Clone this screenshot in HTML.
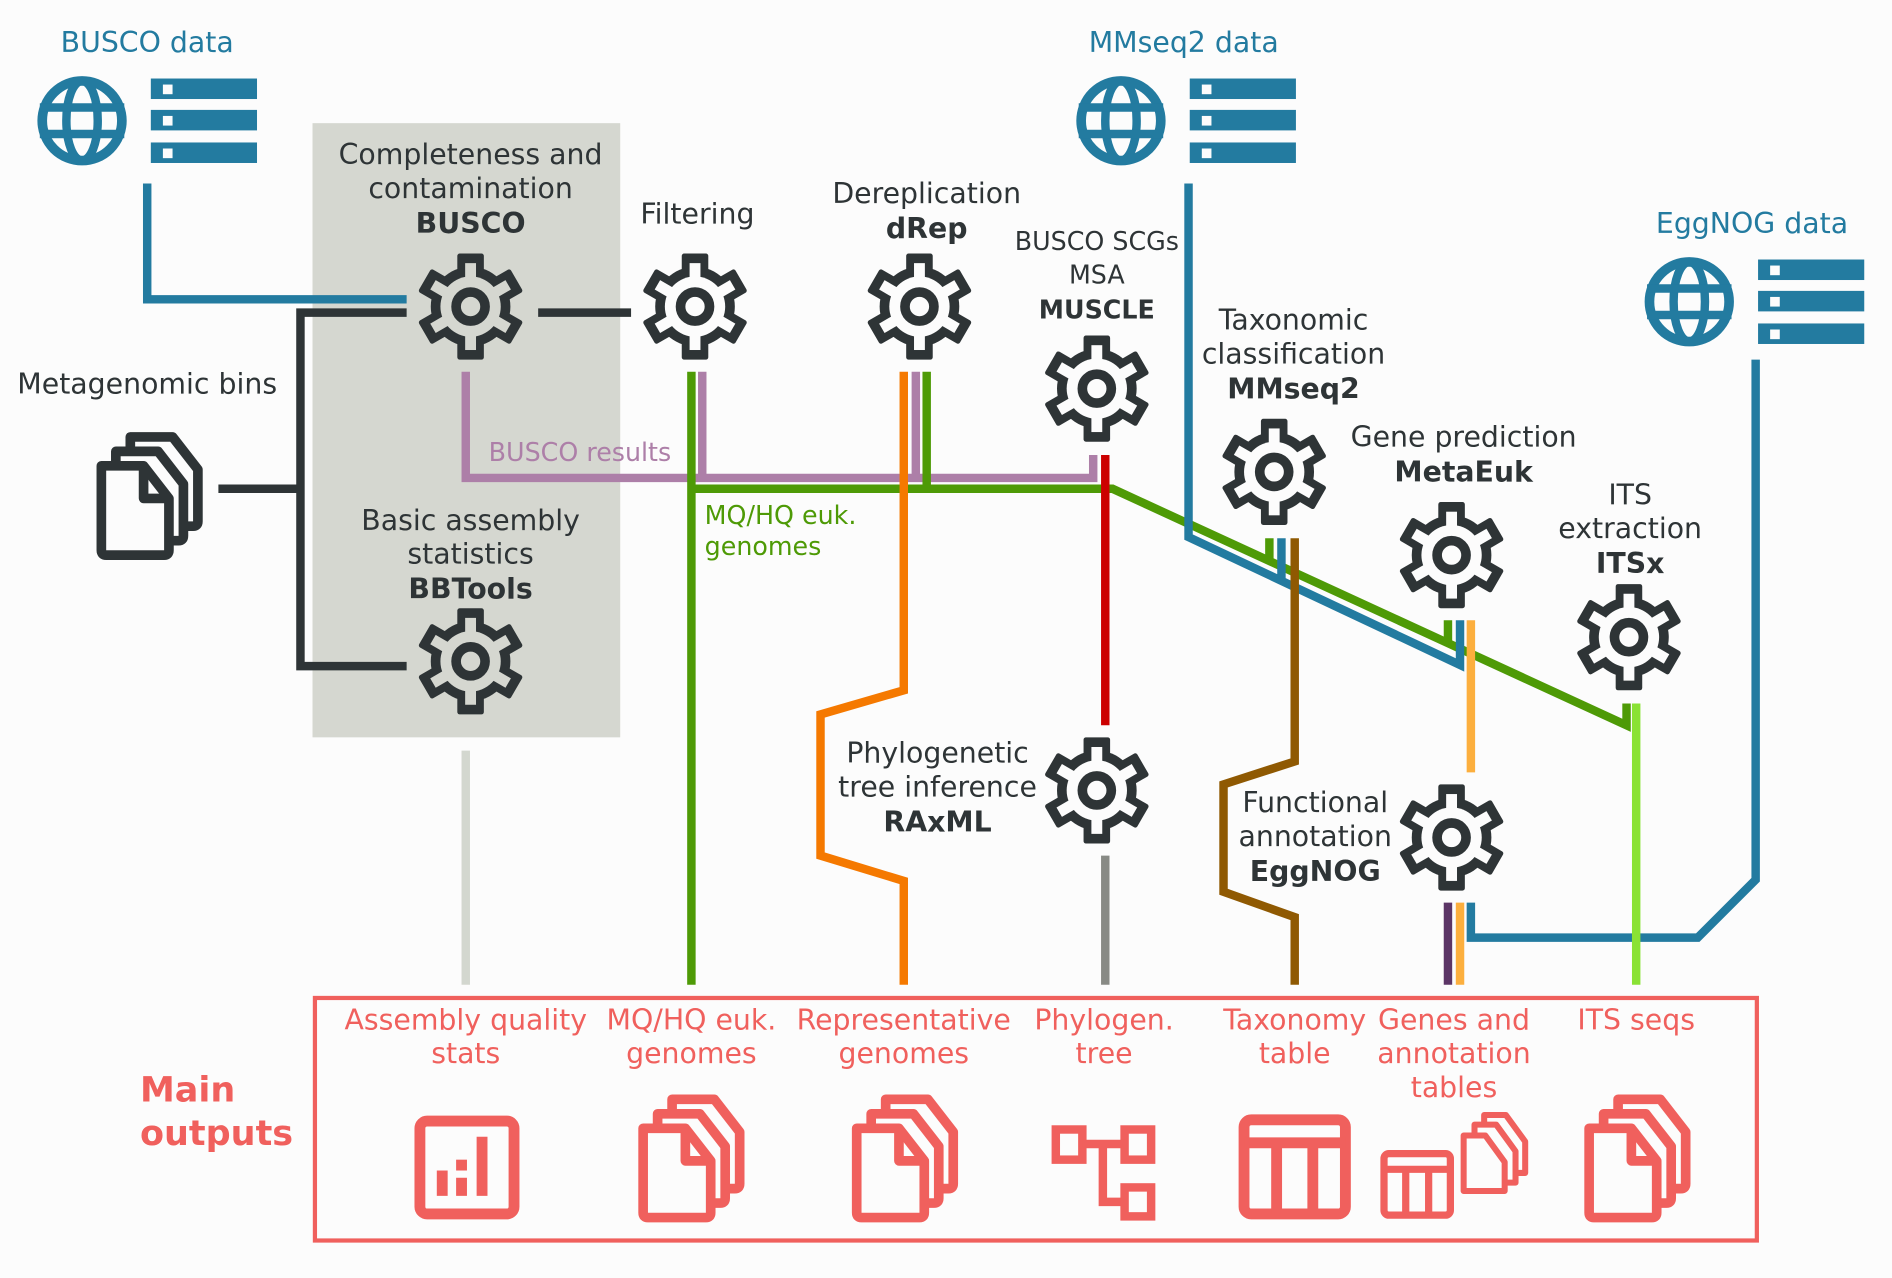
<!DOCTYPE html>
<html><head><meta charset="utf-8"><style>
html,body{margin:0;padding:0;background:#fcfcfc;}
svg{display:block;}
text{font-family:"DejaVu Sans","Liberation Sans",sans-serif;}
</style></head><body>
<svg width="1892" height="1278" viewBox="0 0 1568 1059" xmlns="http://www.w3.org/2000/svg">
<defs>
<g id="gear">
  <circle r="33" fill="#2e3436"/>
  <g fill="#2e3436">
    <rect x="-11" y="-44" width="22" height="20" rx="2"/>
    <rect x="-11" y="-44" width="22" height="20" rx="2" transform="rotate(60)"/>
    <rect x="-11" y="-44" width="22" height="20" rx="2" transform="rotate(120)"/>
    <rect x="-11" y="-44" width="22" height="20" rx="2" transform="rotate(180)"/>
    <rect x="-11" y="-44" width="22" height="20" rx="2" transform="rotate(240)"/>
    <rect x="-11" y="-44" width="22" height="20" rx="2" transform="rotate(300)"/>
  </g>
  <circle r="25" fill="currentColor"/>
  <g fill="currentColor">
    <rect x="-4.5" y="-36" width="9" height="14"/>
    <rect x="-4.5" y="-36" width="9" height="14" transform="rotate(60)"/>
    <rect x="-4.5" y="-36" width="9" height="14" transform="rotate(120)"/>
    <rect x="-4.5" y="-36" width="9" height="14" transform="rotate(180)"/>
    <rect x="-4.5" y="-36" width="9" height="14" transform="rotate(240)"/>
    <rect x="-4.5" y="-36" width="9" height="14" transform="rotate(300)"/>
  </g>
  <circle r="12" fill="none" stroke="#2e3436" stroke-width="8"/>
</g>
<g id="globe">
  <circle r="33" fill="#fcfcfc" stroke="#237ba0" stroke-width="8"/>
  <ellipse rx="13" ry="33" fill="none" stroke="#237ba0" stroke-width="7"/>
  <line x1="-35" y1="-11" x2="35" y2="-11" stroke="#237ba0" stroke-width="7"/>
  <line x1="-35" y1="11" x2="35" y2="11" stroke="#237ba0" stroke-width="7"/>
</g>
<g id="db" fill="#237ba0">
  <rect x="0" y="0" width="88" height="17"/><rect x="0" y="26" width="88" height="17"/><rect x="0" y="53" width="88" height="17"/>
  <rect x="10" y="5" width="8" height="8" fill="#fcfcfc"/><rect x="10" y="31" width="8" height="8" fill="#fcfcfc"/><rect x="10" y="58" width="8" height="8" fill="#fcfcfc"/>
</g>
<path id="page" d="M0 0 H35 L56 27 V70 Q56 74 52 74 H4 Q0 74 0 70 Z"/>
<g id="files" stroke-width="8" fill="#fcfcfc" stroke-linejoin="round">
  <use href="#page" x="24" y="0"/><use href="#page" x="12" y="12"/><use href="#page" x="0" y="24"/>
  <path d="M35 24 V51 H56" fill="none"/>
</g>
</defs>

<rect x="259" y="102" width="255" height="509" fill="#d5d7d0"/>

<use href="#globe" x="68" y="100"/><use href="#db" x="125" y="65"/>
<use href="#globe" x="929" y="100"/><use href="#db" x="986" y="65"/>
<use href="#globe" x="1400" y="250"/><use href="#db" x="1457" y="215"/>
<text x="122" y="43" font-size="23.5" fill="#237ba0" text-anchor="middle">BUSCO data</text>
<text x="981" y="43" font-size="23.5" fill="#237ba0" text-anchor="middle">MMseq2 data</text>
<text x="1452" y="193" font-size="23.5" fill="#237ba0" text-anchor="middle">EggNOG data</text>

<g fill="none" stroke-width="7">
  <path d="M122 152 V248 H337" stroke="#237ba0"/>
  <path d="M337 259 H249 V552 H337 M181 405 H249 M446 259 H523" stroke="#2e3436"/>
  <path d="M386 308 V396 H906 V377 M582 308 V396 M759 308 V396" stroke="#ad7fa8"/>
  <path d="M573 308 V816 M573 405 H922 L1348 601 V583 M768 308 V405 M1052 446 V465 M1200 514 V533" stroke="#4e9a06"/>
  <path d="M985 152 V445 L1210 551 V514 M1062 446 V481" stroke="#237ba0"/>
  <path d="M749 308 V572 L680 592 V709 L749 730 V816" stroke="#f57900"/>
  <path d="M916 377 V601" stroke="#cc0000"/>
  <path d="M916 709 V816" stroke="#888a85"/>
  <path d="M386 622 V816" stroke="#d3d7cf"/>
  <path d="M1073 446 V631 L1014 650 V739 L1073 760 V816" stroke="#8f5902"/>
  <path d="M1219 514 V640 M1210 748 V816" stroke="#fcaf3e"/>
  <path d="M1200 748 V816" stroke="#5c3566"/>
  <path d="M1455 298 V729 L1407 777 H1219 V748" stroke="#237ba0"/>
  <path d="M1356 583 V816" stroke="#8ae234"/>
</g>

<use href="#gear" x="390" y="254" color="#d5d7d0"/>
<use href="#gear" x="390" y="548" color="#d5d7d0"/>
<use href="#gear" x="576" y="254" color="#fcfcfc"/>
<use href="#gear" x="762" y="254" color="#fcfcfc"/>
<use href="#gear" x="909" y="322" color="#fcfcfc"/>
<use href="#gear" x="1056" y="391" color="#fcfcfc"/>
<use href="#gear" x="1203" y="460" color="#fcfcfc"/>
<use href="#gear" x="1350" y="528" color="#fcfcfc"/>
<use href="#gear" x="909" y="655" color="#fcfcfc"/>
<use href="#gear" x="1203" y="694" color="#fcfcfc"/>

<g stroke="#2e3436"><use href="#files" x="84" y="362"/></g>

<g font-size="23.5" fill="#2e3436" text-anchor="middle">
  <text x="390" y="136">Completeness and</text><text x="390" y="164">contamination</text><text x="390" y="193" font-weight="bold">BUSCO</text>
  <text x="578" y="185">Filtering</text>
  <text x="768" y="168">Dereplication</text><text x="768" y="197" font-weight="bold">dRep</text>
  <text x="909" y="207" font-size="21">BUSCO SCGs</text><text x="909" y="235" font-size="21">MSA</text><text x="909" y="264" font-size="21" font-weight="bold">MUSCLE</text>
  <text x="1072" y="273">Taxonomic</text><text x="1072" y="301">classification</text><text x="1072" y="330" font-weight="bold">MMseq2</text>
  <text x="1213" y="370">Gene prediction</text><text x="1213" y="399" font-weight="bold">MetaEuk</text>
  <text x="1351" y="418">ITS</text><text x="1351" y="446">extraction</text><text x="1351" y="475" font-weight="bold">ITSx</text>
  <text x="122" y="326">Metagenomic bins</text>
  <text x="390" y="439">Basic assembly</text><text x="390" y="467">statistics</text><text x="390" y="496" font-weight="bold">BBTools</text>
  <text x="777" y="632">Phylogenetic</text><text x="777" y="660">tree inference</text><text x="777" y="689" font-weight="bold">RAxML</text>
  <text x="1090" y="673">Functional</text><text x="1090" y="701">annotation</text><text x="1090" y="730" font-weight="bold">EggNOG</text>
</g>
<text x="405" y="382" font-size="21" fill="#ad7fa8">BUSCO results</text>
<text x="584" y="434" font-size="21" fill="#4e9a06">MQ/HQ euk.</text>
<text x="584" y="460" font-size="21" fill="#4e9a06">genomes</text>

<rect x="261" y="827" width="1195" height="201" fill="none" stroke="#f0605d" stroke-width="3.5"/>
<g font-size="23.5" fill="#f0605d" text-anchor="middle">
  <text x="386" y="853">Assembly quality</text><text x="386" y="881">stats</text>
  <text x="573" y="853">MQ/HQ euk.</text><text x="573" y="881">genomes</text>
  <text x="749" y="853">Representative</text><text x="749" y="881">genomes</text>
  <text x="915" y="853">Phylogen.</text><text x="915" y="881">tree</text>
  <text x="1073" y="853">Taxonomy</text><text x="1073" y="881">table</text>
  <text x="1205" y="853">Genes and</text><text x="1205" y="881">annotation</text><text x="1205" y="909">tables</text>
  <text x="1356" y="853">ITS seqs</text>
</g>
<text x="116" y="913" font-size="29" font-weight="bold" fill="#f0605d">Main</text>
<text x="116" y="949" font-size="29" font-weight="bold" fill="#f0605d">outputs</text>

<rect x="348" y="929" width="78" height="77" rx="6" fill="none" stroke="#f0605d" stroke-width="9"/>
<g fill="#f0605d"><rect x="362" y="970" width="9" height="21"/><rect x="378" y="961" width="9" height="9"/><rect x="378" y="976" width="9" height="15"/><rect x="395" y="942" width="9" height="49"/></g>
<g stroke="#f0605d"><use href="#files" x="533" y="911"/><use href="#files" x="710" y="911"/><use href="#files" x="1317" y="911"/></g>
<g fill="none" stroke="#f0605d" stroke-width="7">
  <rect x="875" y="936" width="22" height="25"/><rect x="932" y="936" width="22" height="25"/><rect x="932" y="984" width="22" height="24"/>
  <path d="M897 948 H932 M914 948 V996 H932"/>
</g>
<g fill="none" stroke="#f0605d" stroke-width="9">
  <rect x="1031" y="928" width="84" height="78" rx="6"/>
  <path d="M1031 947 H1115 M1058 947 V1006 M1088 947 V1006"/>
</g>
<g fill="none" stroke="#f0605d" stroke-width="6">
  <rect x="1147" y="956" width="55" height="51" rx="4"/>
  <path d="M1147 969 H1202 M1165 969 V1007 M1184 969 V1007"/>
</g>
<g stroke="#f0605d" fill="#fcfcfc" stroke-width="5" stroke-linejoin="round">
  <path d="M1230 924 H1248 L1264 946 V972 H1230 Z"/>
  <path d="M1222 932 H1240 L1256 954 V980 H1222 Z"/>
  <path d="M1213 941 H1231 L1247 963 V987 H1213 Z"/>
</g>
</svg>
</body></html>
